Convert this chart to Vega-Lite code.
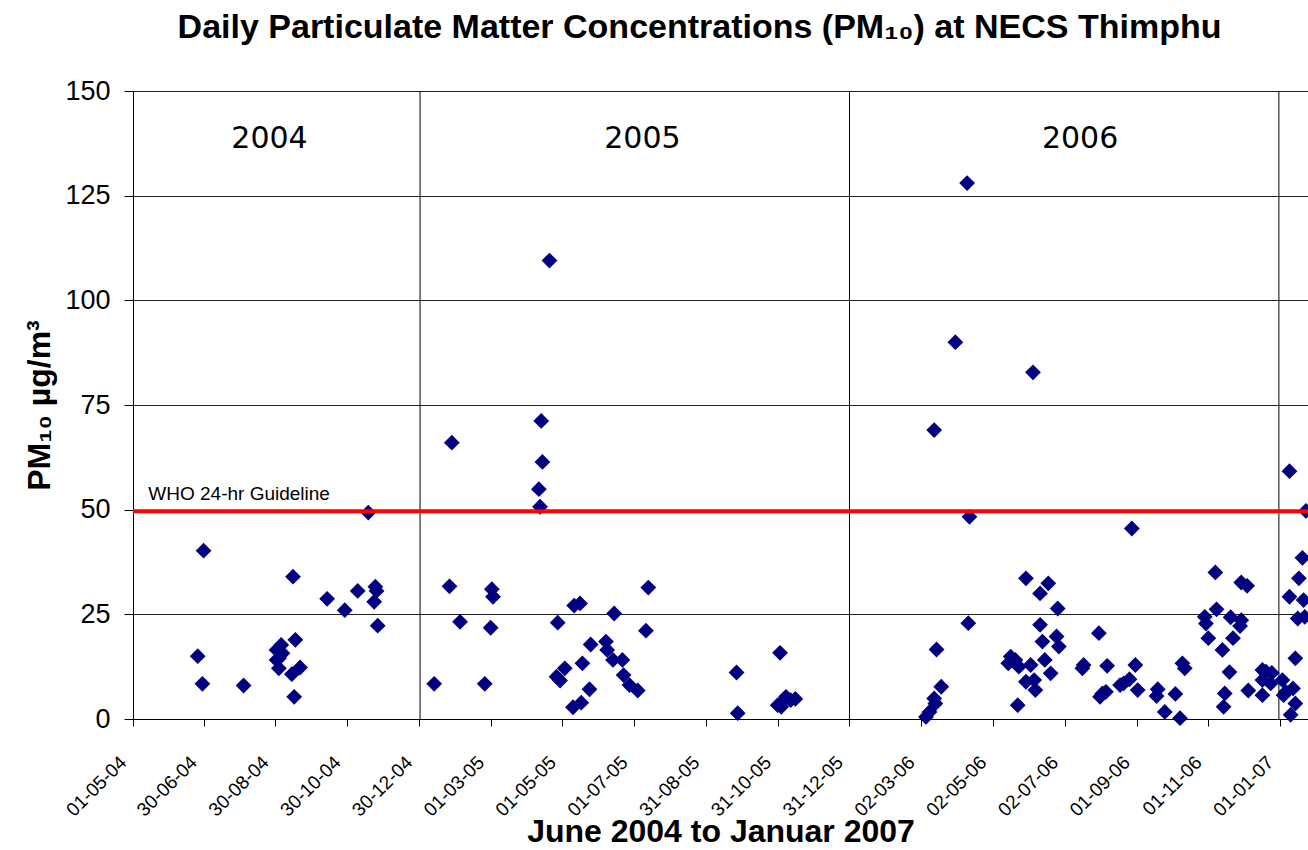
{
  "$schema": "https://vega.github.io/schema/vega-lite/v6.json",
  "width": 1175,
  "height": 628,
  "autosize": {"type": "none"},
  "padding": {"left": 133, "top": 91, "right": 0, "bottom": 131},
  "background": "white",
  "config": {"view": {"stroke": null}, "font": "Liberation Sans"},
  "title": {
    "text": "Daily Particulate Matter Concentrations (PM₁₀) at NECS Thimphu",
    "font": "Liberation Sans",
    "fontSize": 34,
    "fontWeight": "bold",
    "color": "black",
    "anchor": "middle",
    "dx": -21,
    "offset": 32
  },
  "datasets": {
    "pm": [
      {"date": "2004-06-25", "pm": 15.0},
      {"date": "2004-06-29", "pm": 8.4},
      {"date": "2004-06-30", "pm": 40.2},
      {"date": "2004-08-03", "pm": 8.0},
      {"date": "2004-08-31", "pm": 16.5},
      {"date": "2004-08-31", "pm": 14.1},
      {"date": "2004-09-02", "pm": 12.1},
      {"date": "2004-09-02", "pm": 14.5},
      {"date": "2004-09-04", "pm": 17.7},
      {"date": "2004-09-05", "pm": 15.7},
      {"date": "2004-09-13", "pm": 10.7},
      {"date": "2004-09-14", "pm": 34.0},
      {"date": "2004-09-15", "pm": 5.3},
      {"date": "2004-09-16", "pm": 18.9},
      {"date": "2004-09-20", "pm": 12.3},
      {"date": "2004-10-13", "pm": 28.7},
      {"date": "2004-10-28", "pm": 26.0},
      {"date": "2004-11-08", "pm": 30.6},
      {"date": "2004-11-17", "pm": 49.3},
      {"date": "2004-11-22", "pm": 28.0},
      {"date": "2004-11-23", "pm": 31.6},
      {"date": "2004-11-24", "pm": 30.6},
      {"date": "2004-11-25", "pm": 22.3},
      {"date": "2005-01-12", "pm": 8.4},
      {"date": "2005-01-25", "pm": 31.7},
      {"date": "2005-01-27", "pm": 66.0},
      {"date": "2005-02-03", "pm": 23.2},
      {"date": "2005-02-24", "pm": 8.4},
      {"date": "2005-03-01", "pm": 21.8},
      {"date": "2005-03-02", "pm": 31.0},
      {"date": "2005-03-03", "pm": 29.2},
      {"date": "2005-04-11", "pm": 54.9},
      {"date": "2005-04-12", "pm": 50.7},
      {"date": "2005-04-13", "pm": 71.2},
      {"date": "2005-04-14", "pm": 61.4},
      {"date": "2005-04-20", "pm": 109.5},
      {"date": "2005-04-26", "pm": 10.1},
      {"date": "2005-04-27", "pm": 23.0},
      {"date": "2005-04-29", "pm": 9.2},
      {"date": "2005-05-03", "pm": 12.1},
      {"date": "2005-05-10", "pm": 2.8},
      {"date": "2005-05-11", "pm": 27.1},
      {"date": "2005-05-16", "pm": 27.6},
      {"date": "2005-05-17", "pm": 3.9},
      {"date": "2005-05-18", "pm": 13.3},
      {"date": "2005-05-24", "pm": 7.1},
      {"date": "2005-05-25", "pm": 17.8},
      {"date": "2005-06-07", "pm": 18.5},
      {"date": "2005-06-08", "pm": 16.5},
      {"date": "2005-06-13", "pm": 14.1},
      {"date": "2005-06-14", "pm": 25.2},
      {"date": "2005-06-21", "pm": 14.1},
      {"date": "2005-06-22", "pm": 10.5},
      {"date": "2005-06-27", "pm": 8.1},
      {"date": "2005-07-04", "pm": 6.8},
      {"date": "2005-07-11", "pm": 21.1},
      {"date": "2005-07-13", "pm": 31.4},
      {"date": "2005-09-26", "pm": 11.1},
      {"date": "2005-09-27", "pm": 1.4},
      {"date": "2005-10-31", "pm": 3.3},
      {"date": "2005-11-02", "pm": 15.8},
      {"date": "2005-11-03", "pm": 2.9},
      {"date": "2005-11-04", "pm": 4.1},
      {"date": "2005-11-07", "pm": 5.3},
      {"date": "2005-11-11", "pm": 4.5},
      {"date": "2005-11-15", "pm": 4.8},
      {"date": "2006-03-06", "pm": 0.5},
      {"date": "2006-03-09", "pm": 1.7},
      {"date": "2006-03-13", "pm": 69.0},
      {"date": "2006-03-13", "pm": 4.9},
      {"date": "2006-03-14", "pm": 3.7},
      {"date": "2006-03-15", "pm": 16.6},
      {"date": "2006-03-19", "pm": 7.7},
      {"date": "2006-03-31", "pm": 90.0},
      {"date": "2006-04-10", "pm": 128.0},
      {"date": "2006-04-11", "pm": 22.9},
      {"date": "2006-04-12", "pm": 48.3},
      {"date": "2006-05-15", "pm": 13.3},
      {"date": "2006-05-17", "pm": 14.9},
      {"date": "2006-05-21", "pm": 14.1},
      {"date": "2006-05-23", "pm": 3.3},
      {"date": "2006-05-24", "pm": 12.5},
      {"date": "2006-05-30", "pm": 8.9},
      {"date": "2006-05-30", "pm": 33.6},
      {"date": "2006-06-03", "pm": 12.9},
      {"date": "2006-06-05", "pm": 82.8},
      {"date": "2006-06-06", "pm": 9.3},
      {"date": "2006-06-07", "pm": 6.9},
      {"date": "2006-06-11", "pm": 30.0},
      {"date": "2006-06-11", "pm": 22.5},
      {"date": "2006-06-13", "pm": 18.5},
      {"date": "2006-06-15", "pm": 14.1},
      {"date": "2006-06-18", "pm": 32.4},
      {"date": "2006-06-20", "pm": 10.9},
      {"date": "2006-06-25", "pm": 19.7},
      {"date": "2006-06-26", "pm": 26.4},
      {"date": "2006-06-27", "pm": 17.3},
      {"date": "2006-07-17", "pm": 12.1},
      {"date": "2006-07-18", "pm": 12.9},
      {"date": "2006-07-31", "pm": 20.5},
      {"date": "2006-08-01", "pm": 5.3},
      {"date": "2006-08-03", "pm": 6.1},
      {"date": "2006-08-06", "pm": 6.5},
      {"date": "2006-08-07", "pm": 12.7},
      {"date": "2006-08-18", "pm": 8.1},
      {"date": "2006-08-21", "pm": 8.5},
      {"date": "2006-08-26", "pm": 9.5},
      {"date": "2006-08-28", "pm": 45.5},
      {"date": "2006-08-31", "pm": 12.9},
      {"date": "2006-09-02", "pm": 6.9},
      {"date": "2006-09-18", "pm": 5.5},
      {"date": "2006-09-19", "pm": 7.1},
      {"date": "2006-09-25", "pm": 1.7},
      {"date": "2006-10-04", "pm": 6.0},
      {"date": "2006-10-08", "pm": 0.2},
      {"date": "2006-10-10", "pm": 13.3},
      {"date": "2006-10-12", "pm": 12.1},
      {"date": "2006-10-29", "pm": 24.4},
      {"date": "2006-10-30", "pm": 22.8},
      {"date": "2006-11-01", "pm": 19.3},
      {"date": "2006-11-07", "pm": 35.0},
      {"date": "2006-11-08", "pm": 26.2},
      {"date": "2006-11-13", "pm": 16.5},
      {"date": "2006-11-14", "pm": 2.9},
      {"date": "2006-11-15", "pm": 6.1},
      {"date": "2006-11-19", "pm": 11.2},
      {"date": "2006-11-20", "pm": 24.3},
      {"date": "2006-11-22", "pm": 19.3},
      {"date": "2006-11-28", "pm": 22.2},
      {"date": "2006-11-29", "pm": 23.6},
      {"date": "2006-11-29", "pm": 32.6},
      {"date": "2006-12-04", "pm": 31.8},
      {"date": "2006-12-05", "pm": 6.8},
      {"date": "2006-12-17", "pm": 11.7},
      {"date": "2006-12-17", "pm": 5.7},
      {"date": "2006-12-17", "pm": 9.3},
      {"date": "2006-12-20", "pm": 11.3},
      {"date": "2006-12-24", "pm": 8.5},
      {"date": "2006-12-25", "pm": 11.0},
      {"date": "2007-01-03", "pm": 9.3},
      {"date": "2007-01-04", "pm": 5.7},
      {"date": "2007-01-06", "pm": 6.5},
      {"date": "2007-01-09", "pm": 29.2},
      {"date": "2007-01-09", "pm": 59.2},
      {"date": "2007-01-10", "pm": 1.0},
      {"date": "2007-01-12", "pm": 7.3},
      {"date": "2007-01-14", "pm": 3.7},
      {"date": "2007-01-14", "pm": 14.5},
      {"date": "2007-01-16", "pm": 24.0},
      {"date": "2007-01-17", "pm": 33.6},
      {"date": "2007-01-20", "pm": 38.5},
      {"date": "2007-01-21", "pm": 28.4},
      {"date": "2007-01-22", "pm": 24.4},
      {"date": "2007-01-23", "pm": 49.7}
    ],
    "separators": [
      {"date": "2004-12-31"},
      {"date": "2005-12-31"},
      {"date": "2006-12-31"}
    ],
    "guideline": [
      {"pm": 49.6}
    ],
    "years": [
      {"date": "2004-08-25", "pm": 138.6, "label": "2004"},
      {"date": "2005-07-08", "pm": 138.6, "label": "2005"},
      {"date": "2006-07-15", "pm": 138.6, "label": "2006"}
    ],
    "who": [
      {"date": "2004-05-14", "pm": 53.7, "label": "WHO 24-hr Guideline"}
    ]
  },
  "layer": [
    {
      "data": {"name": "separators"},
      "mark": {"type": "rule", "color": "black", "strokeWidth": 1},
      "encoding": {
        "x": {"field": "date", "type": "temporal"}
      }
    },
    {
      "data": {"name": "pm"},
      "mark": {"type": "point", "shape": "diamond", "filled": true, "size": 250, "color": "#000080", "opacity": 1, "strokeWidth": 0},
      "encoding": {
        "x": {
          "field": "date",
          "type": "temporal",
          "scale": {
            "type": "utc",
            "domain": [
              {"year": 2004, "month": 5, "date": 1, "utc": true},
              {"year": 2007, "month": 1, "date": 24, "hours": 18, "utc": true}
            ]
          },
          "axis": {
            "title": "June 2004 to Januar 2007",
            "titleFont": "Liberation Sans",
            "titleFontSize": 32,
            "titleFontWeight": "bold",
            "titleColor": "black",
            "titlePadding": -3,
            "values": [
              {"year": 2004, "month": 5, "date": 1, "utc": true},
              {"year": 2004, "month": 6, "date": 30, "utc": true},
              {"year": 2004, "month": 8, "date": 30, "utc": true},
              {"year": 2004, "month": 10, "date": 30, "utc": true},
              {"year": 2004, "month": 12, "date": 30, "utc": true},
              {"year": 2005, "month": 3, "date": 1, "utc": true},
              {"year": 2005, "month": 5, "date": 1, "utc": true},
              {"year": 2005, "month": 7, "date": 1, "utc": true},
              {"year": 2005, "month": 8, "date": 31, "utc": true},
              {"year": 2005, "month": 10, "date": 31, "utc": true},
              {"year": 2005, "month": 12, "date": 31, "utc": true},
              {"year": 2006, "month": 3, "date": 2, "utc": true},
              {"year": 2006, "month": 5, "date": 2, "utc": true},
              {"year": 2006, "month": 7, "date": 2, "utc": true},
              {"year": 2006, "month": 9, "date": 1, "utc": true},
              {"year": 2006, "month": 11, "date": 1, "utc": true},
              {"year": 2007, "month": 1, "date": 1, "utc": true}
            ],
            "labelExpr": "utcFormat(datum.value, '%d-%m-%y')",
            "labelAngle": -45,
            "labelAlign": "right",
            "labelBaseline": "middle",
            "labelFont": "Liberation Sans",
            "labelFontSize": 19,
            "labelColor": "black",
            "labelPadding": 33,
            "labelOffset": -10,
            "labelOverlap": false,
            "labelFlush": false,
            "tickSize": 7,
            "tickColor": "black",
            "domainColor": "black",
            "grid": false
          }
        },
        "y": {
          "field": "pm",
          "type": "quantitative",
          "scale": {"domain": [0, 150], "nice": false},
          "axis": {
            "title": "PM₁₀  µg/m³",
            "titleFont": "Liberation Sans",
            "titleFontSize": 32,
            "titleFontWeight": "bold",
            "titleColor": "black",
            "titlePadding": 8,
            "values": [0, 25, 50, 75, 100, 125, 150],
            "labelFont": "Liberation Sans",
            "labelFontSize": 27,
            "labelColor": "black",
            "labelPadding": 14,
            "tickSize": 9,
            "tickColor": "black",
            "domainColor": "black",
            "grid": true,
            "gridColor": "#222222",
            "gridWidth": 1
          }
        }
      }
    },
    {
      "data": {"name": "guideline"},
      "mark": {"type": "rule", "color": "#ff0000", "strokeWidth": 4},
      "encoding": {
        "y": {"field": "pm", "type": "quantitative"}
      }
    },
    {
      "data": {"name": "who"},
      "mark": {"type": "text", "align": "left", "baseline": "middle", "font": "Liberation Sans", "fontSize": 19, "color": "black"},
      "encoding": {
        "x": {"field": "date", "type": "temporal"},
        "y": {"field": "pm", "type": "quantitative"},
        "text": {"field": "label"}
      }
    },
    {
      "data": {"name": "years"},
      "mark": {"type": "text", "align": "center", "baseline": "middle", "font": "DejaVu Sans", "fontSize": 30, "color": "black"},
      "encoding": {
        "x": {"field": "date", "type": "temporal"},
        "y": {"field": "pm", "type": "quantitative"},
        "text": {"field": "label"}
      }
    }
  ]
}
